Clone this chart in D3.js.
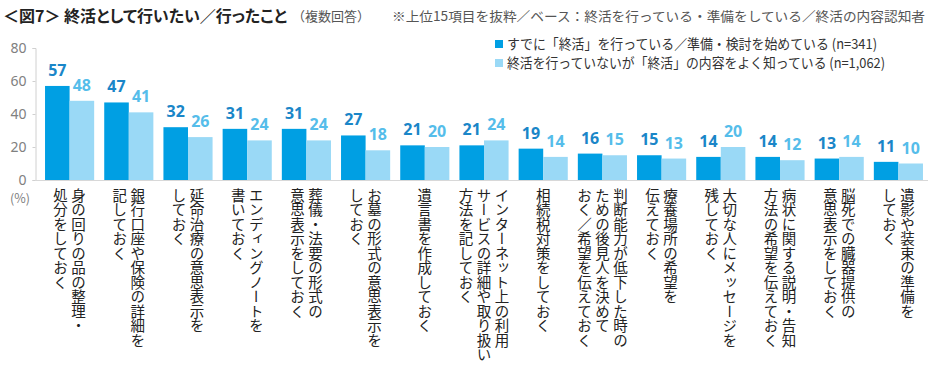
<!DOCTYPE html>
<html><head><meta charset="utf-8">
<script src="https://cdn.jsdelivr.net/npm/d3@7"></script>
<style>
body{margin:0;background:#fff;}
svg{font-family:"Noto Sans CJK JP","Noto Sans",sans-serif;}
.cat{writing-mode:vertical-rl;text-orientation:upright;}
.palt{font-feature-settings:"palt" 1;}
</style></head><body>
<svg id="c" width="934" height="367"></svg>
<script>
const categories = [
 ["身の回りの品の整理・","処分をしておく"],
 ["銀行口座や保険の詳細を","記しておく"],
 ["延命治療の意思表示を","しておく"],
 ["エンディングノートを","書いておく"],
 ["葬儀・法要の形式の","意思表示をしておく"],
 ["お墓の形式の意思表示を","しておく"],
 ["遺言書を作成しておく"],
 ["インターネット上の利用","サービスの詳細や取り扱い","方法を記しておく"],
 ["相続税対策をしておく"],
 ["判断能力が低下した時の","ための後見人を決めて","おく／希望を伝えておく"],
 ["療養場所の希望を","伝えておく"],
 ["大切な人にメッセージを","残しておく"],
 ["病状に関する説明・告知","方法の希望を伝えておく"],
 ["脳死での臓器提供の","意思表示をしておく"],
 ["遺影や装束の準備を","しておく"]
];
const seriesDone = [57,47,32,31,31,27,21,21,19,16,15,14,14,13,11];
const seriesKnow = [48,41,26,24,24,18,20,24,14,15,13,20,12,14,10];
const seriesNames = ["すでに「終活」を行っている／準備・検討を始めている (n=341)","終活を行っていないが「終活」の内容をよく知っている (n=1,062)"];
const yTicks = [0,20,40,60,80];

const svg = d3.select("#c");
const barColors = ["#009fe3","#9ad9f6"];
const labelColors = ["#1a86c8","#55bdea"];

// Title
svg.append("text").attr("class","palt").attr("x",3).attr("y",22).attr("font-size","16px").attr("font-weight","bold").attr("fill","#222")
  .text("＜図7＞ 終活として行いたい／行ったこと");
svg.append("text").attr("x",292).attr("y",21).attr("font-size","13px").attr("fill","#555")
  .text("（複数回答）");
svg.append("text").attr("x",392).attr("y",21).attr("font-size","13px").attr("fill","#555")
  .attr("textLength",533).attr("lengthAdjust","spacingAndGlyphs").text("※上位15項目を抜粋／ベース：終活を行っている・準備をしている／終活の内容認知者");

// Scales
const y = d3.scaleLinear().domain([0,80]).range([180,48]);
const idx = d3.range(categories.length);
const x0 = d3.scaleBand().domain(idx).range([40,928]).paddingInner(0.17).paddingOuter(0.085);
const x1 = d3.scaleBand().domain([0,1]).range([0,x0.bandwidth()]);

// Y axis
const ya = svg.append("g").attr("transform","translate(35.5,0)")
  .call(d3.axisLeft(y).tickValues(yTicks).tickSize(3).tickPadding(6));
ya.select(".domain").attr("stroke","#d0d0d0");
ya.selectAll(".tick line").attr("stroke","#d0d0d0");
ya.selectAll(".tick text").attr("fill","#808080").attr("font-size","14px").attr("font-family","Noto Sans, sans-serif");
svg.append("text").attr("x",20).attr("y",203).attr("text-anchor","middle").attr("fill","#808080").attr("font-size","12.5px").text("(%)");

// Bars
const data = [seriesDone, seriesKnow];
const g = svg.append("g");
data.forEach((s,si)=>{
  g.selectAll(".b"+si).data(s).enter().append("rect")
    .attr("x",(d,i)=>x0(i)+x1(si)).attr("width",x1.bandwidth())
    .attr("y",d=>y(d)).attr("height",d=>y(0)-y(d)).attr("fill",barColors[si]);
  g.selectAll(".l"+si).data(s).enter().append("text")
    .attr("x",(d,i)=>x0(i)+x1(si)+x1.bandwidth()/2).attr("y",d=>y(d)-10)
    .attr("text-anchor","middle").attr("font-size","16px").attr("font-weight","bold")
    .attr("font-family","Noto Sans, sans-serif")
    .attr("fill",labelColors[si]).text(d=>d);
});
// baseline
svg.append("line").attr("x1",35).attr("x2",928).attr("y1",y(0)+0.5).attr("y2",y(0)+0.5).attr("stroke","#d8d8d8");

// Category labels (vertical)
const lineGap = 18;
categories.forEach((lines,i)=>{
  const cx = x0(i)+x0.bandwidth()/2;
  const n = lines.length;
  lines.forEach((ln,j)=>{
    const xx = cx + ((n-1)/2 - j)*lineGap;
    svg.append("text").attr("class","cat")
      .attr("x",xx).attr("y",188)
      .attr("font-size","14.5px").attr("fill","#222")
      .text(ln);
  });
});

// Legend
const legW = [370,378];
seriesNames.forEach((nm,i)=>{
  const ly = 44 + i*19;
  svg.append("rect").attr("x",495).attr("y",ly-4).attr("width",8).attr("height",8).attr("fill",barColors[i]);
  svg.append("text").attr("x",507).attr("y",ly+5).attr("font-size","14px").attr("fill","#333")
    .attr("textLength",legW[i]).attr("lengthAdjust","spacingAndGlyphs").text(nm);
});
</script>
</body></html>
